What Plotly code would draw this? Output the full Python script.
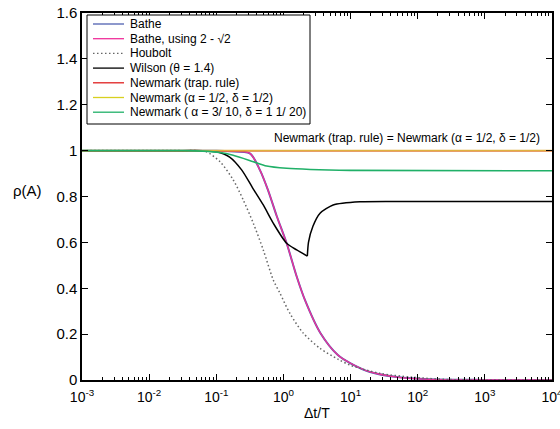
import plotly.graph_objects as go

# ---- data (x = Δt/T, y = ρ(A)) ----
bathe_x = [0.001, 0.0316, 0.1, 0.158, 0.316, 0.447, 0.589, 0.794, 1.12, 1.58, 2.09, 3.55, 6.46, 10.0, 19.5, 49.0, 151.0, 1000.0, 10000.0]
bathe_y = [1.0, 1.0, 0.999, 0.997, 0.988, 0.915, 0.828, 0.715, 0.595, 0.45, 0.349, 0.205, 0.109, 0.073, 0.035, 0.013, 0.003, 0.0005, 0.0]

houbolt_x = [0.001, 0.0316, 0.063, 0.072, 0.1135, 0.179, 0.252, 0.356, 0.501, 0.706, 0.889, 1.25, 1.98, 3.51, 6.56, 9.8, 27.4, 85.0, 300.0, 10000.0]
houbolt_y = [1.0, 1.0, 0.999, 0.995, 0.952, 0.872, 0.785, 0.683, 0.567, 0.436, 0.378, 0.29, 0.204, 0.138, 0.09, 0.065, 0.029, 0.012, 0.002, 0.0]

wilson_down_x = [0.001, 0.0316, 0.063, 0.1, 0.158, 0.24, 0.347, 0.501, 0.708, 1.117, 1.574, 2.27]
wilson_down_y = [1.0, 1.0, 1.0, 0.995, 0.972, 0.915, 0.838, 0.763, 0.683, 0.596, 0.567, 0.54]
wilson_up_x = [2.27, 2.36, 2.75, 3.51, 5.5, 13.8, 100.0, 10000.0]
wilson_up_y = [0.54, 0.6, 0.67, 0.727, 0.763, 0.777, 0.778, 0.778]

trap_x = [0.001, 10000.0]
trap_y = [1.0, 1.0]
half_x = [0.001, 10000.0]
half_y = [1.0, 1.0]

green_x = [0.001, 0.0316, 0.063, 0.1135, 0.178, 0.356, 0.562, 1.117, 2.51, 9.8, 10000.0]
green_y = [1.0, 1.0, 0.998, 0.992, 0.98, 0.952, 0.933, 0.923, 0.918, 0.914, 0.912]

xtick_vals = [0.001, 0.01, 0.1, 1, 10, 100, 1000, 10000]
xtick_text = ["10<sup>-3</sup>", "10<sup>-2</sup>", "10<sup>-1</sup>", "10<sup>0</sup>",
              "10<sup>1</sup>", "10<sup>2</sup>", "10<sup>3</sup>", "10<sup>4</sup>"]
ytick_vals = [0, 0.2, 0.4, 0.6, 0.8, 1.0, 1.2, 1.4, 1.6]
ytick_text = ["0", "0.2", "0.4", "0.6", "0.8", "1", "1.2", "1.4", "1.6"]

legend_labels = ["Bathe", "Bathe, using 2 - √2", "Houbolt", "Wilson (θ = 1.4)",
                 "Newmark (trap. rule)", "Newmark (α = 1/2, δ = 1/2)",
                 "Newmark ( α = 3/ 10, δ = 1 1/ 20)"]
note_text = "Newmark (trap. rule) = Newmark (α = 1/2, δ = 1/2)"

C_BLUE = "#5060B0"
C_PINK = "#F0309A"
C_GRAY = "#666666"
C_BLACK = "#000000"
C_RED = "#E02020"
C_YELLOW_LEG = "#D8D020"
C_GOLD = "#E0B040"
C_GREEN = "#20B068"
DOTS = "1.5px,2.5px"

FONT = "Liberation Sans, Arial, sans-serif"

fig = go.Figure()
def add(x, y, color, dash="solid", width=1.5, smoothing=0.8):
    fig.add_trace(go.Scatter(x=x, y=y, mode="lines", showlegend=False,
                             line=dict(color=color, dash=dash, width=width, shape="spline", smoothing=smoothing)))

add(bathe_x, bathe_y, C_BLUE, width=2)
add(bathe_x, bathe_y, C_PINK, width=1.3)
add(houbolt_x, houbolt_y, C_GRAY, dash=DOTS, width=1.5)
add(wilson_down_x, wilson_down_y, C_BLACK, smoothing=0.7)
add(wilson_up_x, wilson_up_y, C_BLACK, smoothing=0.6)
add(trap_x, trap_y, C_RED)
add(half_x, half_y, C_GOLD, width=1.8)
add(green_x, green_y, C_GREEN, width=1.6)

# plot-area pixel geometry helpers for the manual legend
L, R, T, B = 82, 552, 13, 380
def px(xp):
    return (xp - L) / (R - L)
def py(yp):
    return (B - yp) / (B - T)

shapes = [dict(type="rect", xref="paper", yref="paper", x0=px(87), x1=px(310), y0=py(124), y1=py(15),
               line=dict(color="black", width=1), fillcolor="white", layer="above")]
annotations = []
leg_colors = [C_BLUE, C_PINK, C_GRAY, C_BLACK, C_RED, C_YELLOW_LEG, C_GREEN]
leg_dash = ["solid", "solid", DOTS, "solid", "solid", "solid", "solid"]
for i, (lab, col, d) in enumerate(zip(legend_labels, leg_colors, leg_dash)):
    yc = 24 + i * 14.7
    shapes.append(dict(type="line", xref="paper", yref="paper", x0=px(93), x1=px(124), y0=py(yc), y1=py(yc),
                       line=dict(color=col, width=1.3, dash=d), layer="above"))
    annotations.append(dict(xref="paper", yref="paper", x=px(128), y=py(yc), text=lab, showarrow=False,
                            xanchor="left", yanchor="middle", font=dict(family=FONT, size=12, color="black")))

annotations.append(dict(xref="paper", yref="paper", x=px(272), y=py(138), text=note_text, showarrow=False,
                        xanchor="left", yanchor="middle", font=dict(family=FONT, size=12, color="black")))
annotations.append(dict(xref="paper", yref="paper", x=px(27), y=py(190), text="ρ(A)", showarrow=False,
                        xanchor="center", yanchor="middle", font=dict(family=FONT, size=15, color="black")))
annotations.append(dict(xref="paper", yref="paper", x=0.5, y=py(413), text="Δt/T", showarrow=False,
                        xanchor="center", yanchor="middle", font=dict(family=FONT, size=14, color="black")))

minor_vals = [m * 10 ** k for k in range(-3, 4) for m in range(2, 10)]

fig.update_layout(
    width=560, height=429,
    margin=dict(l=L, r=560 - R, t=T, b=429 - B, autoexpand=False),
    paper_bgcolor="white", plot_bgcolor="white",
    font=dict(family=FONT, size=14, color="black"),
    shapes=shapes, annotations=annotations,
    showlegend=False,
)
fig.update_xaxes(type="log", range=[-3.0002, 4.0002], tickmode="array", tickvals=xtick_vals, ticktext=xtick_text,
                 ticks="inside", ticklen=6, tickcolor="black", showline=True, linecolor="black", linewidth=1.5,
                 mirror="ticks", showgrid=False, zeroline=False, ticklabelstandoff=3, ticklabeloverflow="allow",
                 automargin=False,
                 minor=dict(tickmode="array", tickvals=minor_vals, ticks="inside", ticklen=3, tickcolor="black", showgrid=False),
                 tickfont=dict(size=14))
fig.update_yaxes(range=[0, 1.6], tickmode="array", tickvals=ytick_vals, ticktext=ytick_text,
                 ticks="inside", ticklen=6, tickcolor="black", showline=True, linecolor="black", linewidth=1.5,
                 mirror="ticks", showgrid=False, zeroline=False, tickfont=dict(size=15), automargin=False)

fig.write_html("out.html")
